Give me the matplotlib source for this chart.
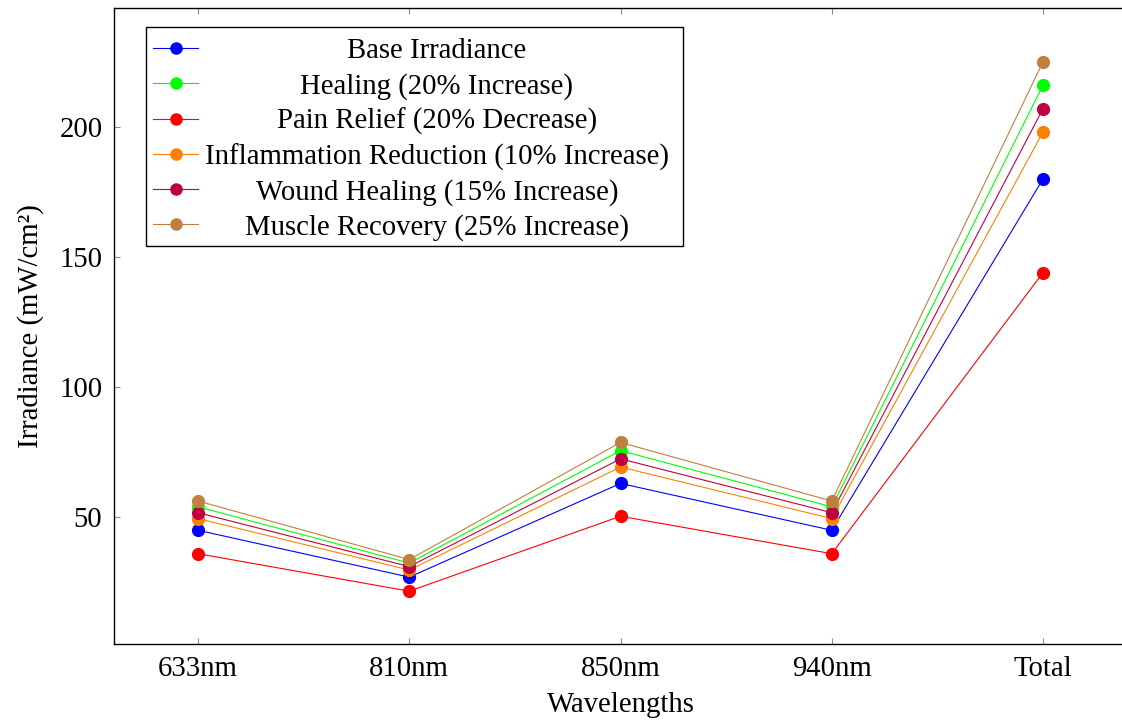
import matplotlib
matplotlib.use('Agg')
import matplotlib.pyplot as plt
from matplotlib.lines import Line2D
from matplotlib.patches import Rectangle

plt.rcParams['font.family'] = ['Liberation Serif', 'DejaVu Serif']

wavelengths = ['633nm', '810nm', '850nm', '940nm', 'Total']
base = [45, 27, 63, 45, 180]
healing = [54, 32.4, 75.6, 54, 216]
pain_relief = [36, 21.6, 50.4, 36, 144]
inflammation = [49.5, 29.7, 69.3, 49.5, 198]
wound = [51.75, 31.05, 72.45, 51.75, 207]
muscle = [56.25, 33.75, 78.75, 56.25, 225]

series = [
    ('Base Irradiance', base, (0, 0, 1)),
    ('Healing (20% Increase)', healing, (0, 1, 0)),
    ('Pain Relief (20% Decrease)', pain_relief, (1, 0, 0)),
    ('Inflammation Reduction (10% Increase)', inflammation, (1, 0.5, 0)),
    ('Wound Healing (15% Increase)', wound, (0.75, 0, 0.25)),
    ('Muscle Recovery (25% Increase)', muscle, (0.75, 0.5, 0.25)),
]

FS = 20.7
W, H = 1122, 720
fig = plt.figure(figsize=(W / 100, H / 100), dpi=100)
# axes box in pixels (right edge runs slightly past the image, as in the reference)
left, right, top, bottom = 113.5, 1127.5, 8, 644
ax = fig.add_axes([left / W, 1 - bottom / H, (right - left) / W, (bottom - top) / H])

x = list(range(len(wavelengths)))
for label, vals, col in series:
    ax.plot(x, vals, color=col, lw=0.8, marker='o', ms=8.5, mec=col, mfc=col)

ax.set_xlim(-0.4, 4.4)
ax.set_ylim(1.3, 245.7)
ax.set_xticks(x)
ax.set_xticklabels(wavelengths)
ax.set_yticks([50, 100, 150, 200])
ax.tick_params(direction='in', length=4.5, width=0.8, color='0.55',
               labelsize=FS, top=True, right=True, pad=8)
ax.tick_params(axis='x', pad=8.5)
for s in ax.spines.values():
    s.set_linewidth(1.0)
ax.set_xlabel('Wavelengths', fontsize=FS, labelpad=7)
ax.set_ylabel('Irradiance (mW/cm²)', fontsize=FS, labelpad=11)

# legend drawn by hand so the text is centred like the pgfplots legend
def px(xp, yp):
    return ((xp - left) / (right - left), (bottom - yp) / (bottom - top))

x0, y0 = px(146, 246)
x1, y1 = px(683, 27)
ax.add_patch(Rectangle((x0, y0), x1 - x0, y1 - y0, transform=ax.transAxes,
                       fill=True, fc='white', ec='black', lw=1.0, zorder=5))
row_y = [48, 83, 118.5, 154, 189, 224]
for (label, vals, col), ry in zip(series, row_y):
    ha, va = px(153, ry)
    hb, _ = px(198, ry)
    hm, _ = px(175.5, ry)
    ax.add_line(Line2D([ha, hb], [va, va], transform=ax.transAxes, color=col,
                       lw=0.8, zorder=6))
    ax.add_line(Line2D([hm], [va], transform=ax.transAxes, color=col, marker='o',
                       ms=8, zorder=6))
    tx, _ = px(437, ry)
    ax.text(tx, va, label, transform=ax.transAxes, ha='center', va='center_baseline',
            fontsize=FS, zorder=6)

fig.savefig('out.png', dpi=100)
